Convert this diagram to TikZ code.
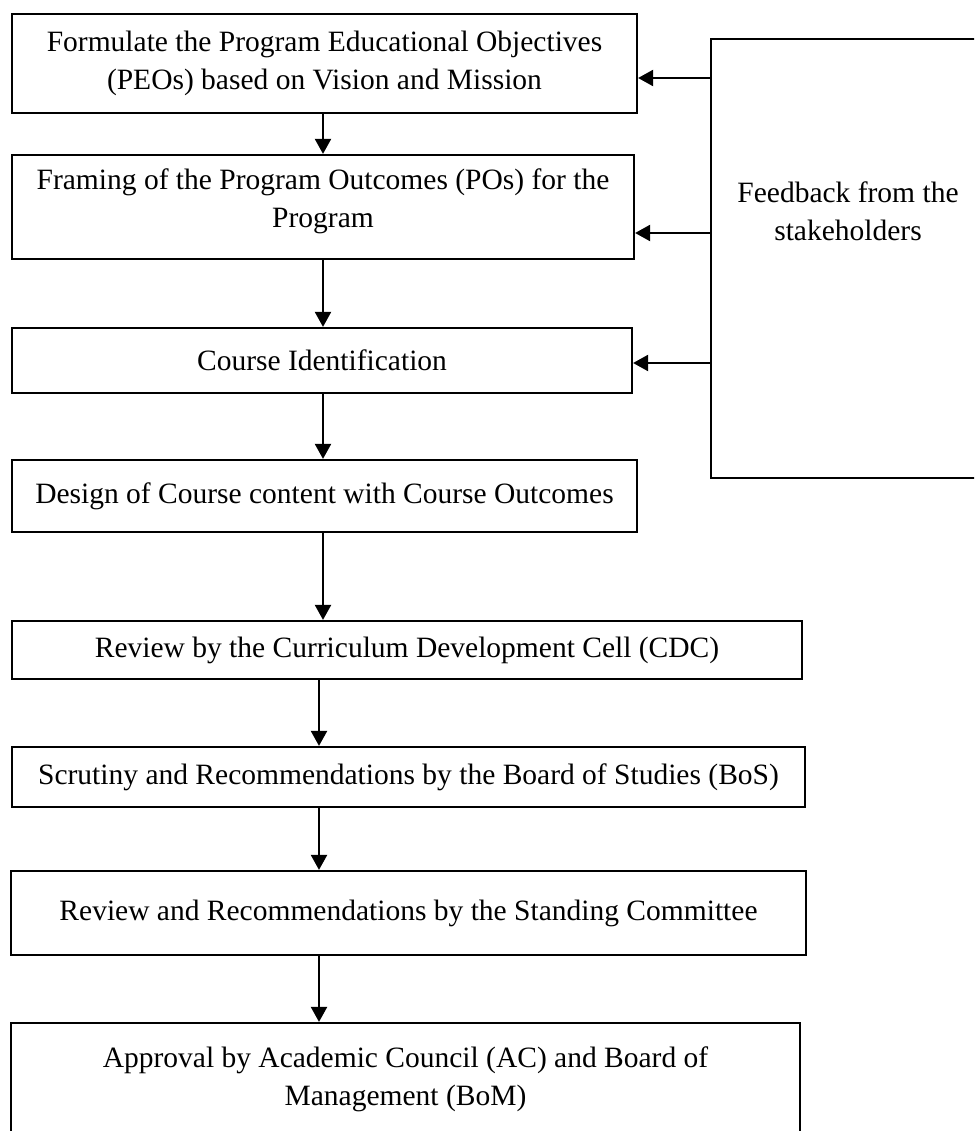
\documentclass[tikz,border=0pt]{standalone}
\usepackage{fontspec}
\setmainfont{Liberation Serif}
\usetikzlibrary{arrows.meta}
\begin{document}
\begin{tikzpicture}[x=1pt,y=-1pt,
  txt/.style={align=center,inner sep=0pt,font=\fontsize{29.5}{38}\selectfont},
  box/.style={txt,draw,line width=2.2pt,rectangle},
  arr/.style={line width=2.2pt,-{Triangle[length=15pt,width=16pt]}}]
\useasboundingbox (0,0) rectangle (974,1131);
\clip (0,0) rectangle (974,1131);
\coordinate (xa) at (323,0);
\coordinate (xb) at (319,0);
\node[box,minimum width=625pt,minimum height=99pt] (b1) at (324.5,63.5)
  {Formulate the Program Educational Objectives\\(PEOs) based on Vision and Mission};
\node[box,minimum width=622pt,minimum height=104pt] (b2) at (323,207) {};
\node[txt] (b2t) at (323,201) {Framing of the Program Outcomes (POs) for the\\Program};
\node[box,minimum width=620pt,minimum height=65pt] (b3) at (322,360.5) {Course Identification};
\node[box,minimum width=625pt,minimum height=72pt] (b4) at (324.5,496)
  {Design of Course content with Course Outcomes};
\node[box,minimum width=790pt,minimum height=58pt] (b5) at (407,650)
  {Review by the Curriculum Development Cell (CDC)};
\node[box,minimum width=793pt,minimum height=60pt] (b6) at (408.5,777)
  {Scrutiny and Recommendations by the Board of Studies (BoS)};
\node[box,minimum width=795pt,minimum height=84pt] (b7) at (408.5,913)
  {Review and Recommendations by the Standing Committee};
\node[box,minimum width=789pt,minimum height=113pt] (b8) at (405.5,1079.5)
  {Approval by Academic Council (AC) and Board of\\Management (BoM)};
\node[box,minimum width=274pt,minimum height=439pt] (fb) at (848,258.5) {};
\node[txt] (fbt) at (848,211.5) {Feedback from the\\stakeholders};
% vertical flow
\draw[arr] (b1.south -| xa) -- (b2.north -| xa);
\draw[arr] (b2.south -| xa) -- (b3.north -| xa);
\draw[arr] (b3.south -| xa) -- (b4.north -| xa);
\draw[arr] (b4.south -| xa) -- (b5.north -| xa);
\draw[arr] (b5.south -| xb) -- (b6.north -| xb);
\draw[arr] (b6.south -| xb) -- (b7.north -| xb);
\draw[arr] (b7.south -| xb) -- (b8.north -| xb);
% feedback arrows
\coordinate (y1) at (0,78);
\coordinate (y2) at (0,233);
\coordinate (y3) at (0,363);
\draw[arr] (fb.west |- y1) -- (b1.east |- y1);
\draw[arr] (fb.west |- y2) -- (b2.east |- y2);
\draw[arr] (fb.west |- y3) -- (b3.east |- y3);
\end{tikzpicture}
\end{document}
